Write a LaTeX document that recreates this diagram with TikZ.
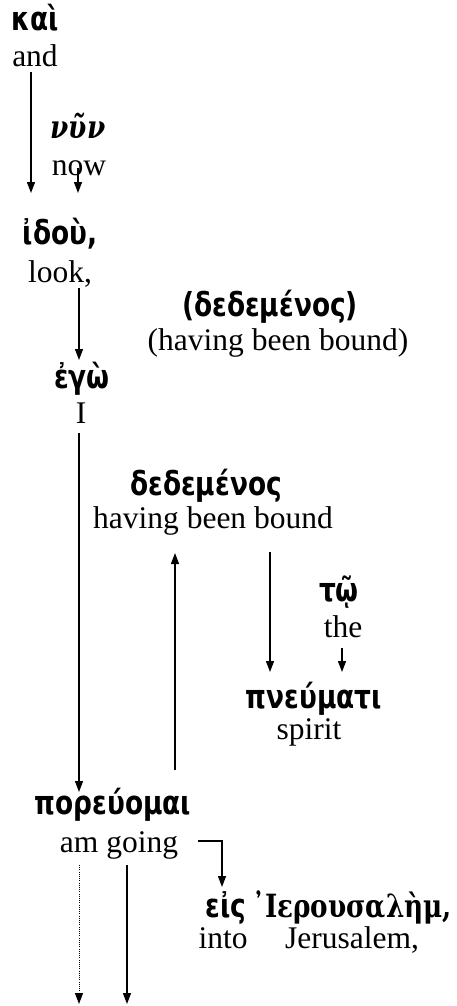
\documentclass[tikz,border=0pt]{standalone}
\usepackage{fontspec}
\setmainfont{Liberation Serif}
\newfontfamily\grk[FakeStretch=0.8]{DejaVu Sans}
\newfontfamily\grkserif[FakeStretch=0.82]{DejaVu Serif}
\usetikzlibrary{arrows.meta}
\tikzset{
  lbl/.style={inner sep=0pt, anchor=base},
  gk/.style={lbl, font=\grk\bfseries\fontsize{33}{38}\selectfont},
  gkit/.style={lbl, font=\grkserif\bfseries\itshape\fontsize{32}{38}\selectfont},
  gks/.style={lbl, font=\grkserif\bfseries\fontsize{32}{38}\selectfont},
  en/.style={lbl, font=\fontsize{31.5}{38}\selectfont},
  arr/.style={line width=1.3pt, -{Triangle[length=11pt,width=8pt]}},
  dotarr/.style={line width=1pt, dash pattern=on 1pt off 1.2pt, -{Triangle[length=11pt,width=8pt]}}
}
\begin{document}
\begin{tikzpicture}[x=1pt,y=-1pt]
\useasboundingbox (0,0) rectangle (456,1006);
% words
\node[gk] (kai) at (35,31) {καὶ};
\node[en] (and) at (35,67) {and};
\node[gkit] (nun) at (78,139) {νῦν};
\node[en] (now) at (79,175) {now};
\node[gk] (idou) at (60,244) {ἰδοὺ,};
\node[en] (look) at (60,282) {look,};
\node[gk] (pdede) at (270,316) {(δεδεμένος)};
\node[en] (phbb) at (278,350) {(having been bound)};
\node[gk] (ego) at (82,388) {ἐγὼ};
\node[en] (I) at (81,423) {I};
\node[gk] (dede) at (206,495) {δεδεμένος};
\node[en] (hbb) at (213,528) {having been bound};
\node[gk] (to) at (339,601) {τῷ};
\node[en] (the) at (343,637) {the};
\node[gk] (pneumati) at (314,708) {πνεύματι};
\node[en] (spirit) at (309,739) {spirit};
\node[gk] (poreuomai) at (113,814) {πορεύομαι};
\node[en] (amgoing) at (119,852) {am going};
\node[gk] (eis) at (226,917) {εἰς};
\node[gks] (ierus) at (352,917) {᾽Ιερουσαλὴμ,};
\node[en] (into) at (223,948) {into};
\node[en] (jerus) at (352,948) {Jerusalem,};
\coordinate (end1) at (79,1004);
\coordinate (end2) at (127,1004);
% connectors
\draw[arr] ([shift={(-4,5)}]and.base) -- ([shift={(-29,-51)}]idou.base);
\draw[arr] ([shift={(-1,-7)}]now.base) -- ([shift={(18,-51)}]idou.base);
\draw[arr] ([shift={(19,6)}]look.base) -- ([shift={(-3,-28)}]ego.base);
\draw[arr] ([shift={(-2,10)}]I.base) -- ([shift={(-34,-22)}]poreuomai.base);
\draw[arr] ([shift={(62,-44)}]poreuomai.base) -- ([shift={(-38,25)}]hbb.base);
\draw[arr] ([shift={(57,24)}]hbb.base) -- ([shift={(-44,-36)}]pneumati.base);
\draw[arr] ([shift={(-1,11)}]the.base) -- ([shift={(28,-36)}]pneumati.base);
\draw[arr] ([shift={(79,-11)}]amgoing.base) -| ([shift={(-4,-30)}]eis.base);
\draw[dotarr] ([shift={(-40,13)}]amgoing.base) -- (end1);
\draw[arr] ([shift={(8,13)}]amgoing.base) -- (end2);
\end{tikzpicture}
\end{document}
